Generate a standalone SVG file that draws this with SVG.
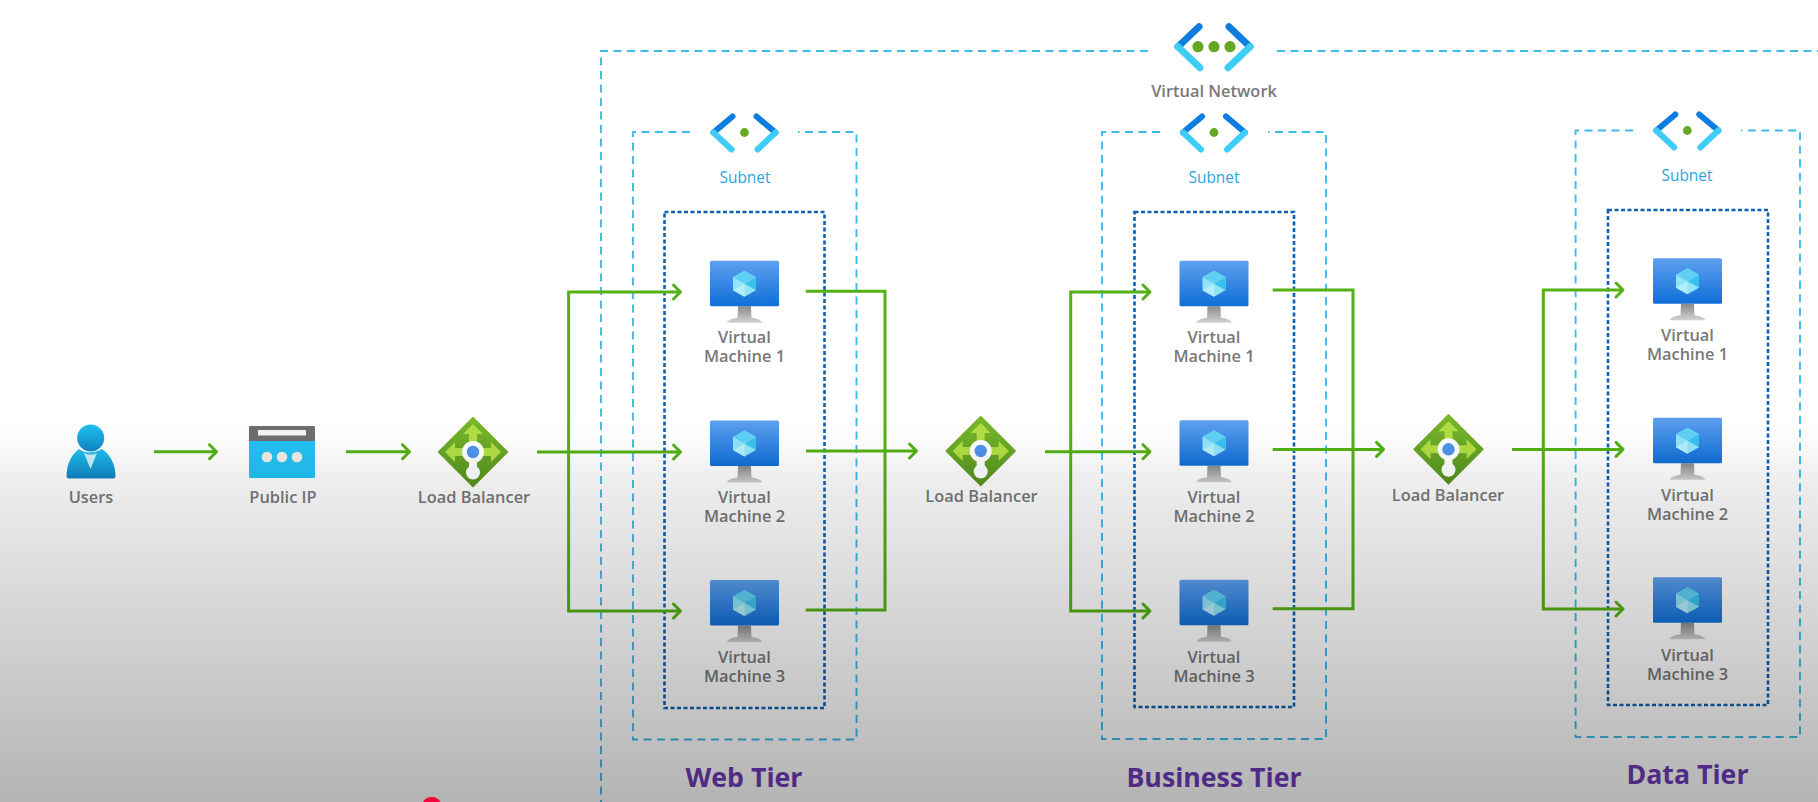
<svg xmlns="http://www.w3.org/2000/svg" xmlns:xlink="http://www.w3.org/1999/xlink" width="1818" height="802" viewBox="0 0 1818 802">
<style>
text{font-family:"Open Sans","Noto Sans","Liberation Sans",sans-serif;text-anchor:middle}
.lbl{font-size:16.4px;font-weight:600;fill:#797979}
.sub{font-size:15.4px;font-weight:400;fill:#2aa6e0}
.tier{font-size:26.7px;font-weight:700;fill:#4f2b85}
.dash{fill:none;stroke:#3cbcea;stroke-width:1.9;stroke-dasharray:8 5.5}
.dot{fill:none;stroke:#0b62b5;stroke-width:2.6;stroke-dasharray:4 2.5}
.wire{fill:none;stroke:#54b014;stroke-width:3}
.arr{marker-end:url(#head)}
</style>
<defs>
<marker id="head" markerUnits="userSpaceOnUse" markerWidth="24" markerHeight="24" viewBox="-12 -12 24 24" refX="0" refY="0" orient="auto"><path d="M-7,-7 L0,0 L-7,7" fill="none" stroke="#54b014" stroke-width="3" stroke-linecap="round" stroke-linejoin="round"/></marker>
<linearGradient id="vmScreen" x1="0" y1="0" x2="0" y2="1"><stop offset="0" stop-color="#5ea0ef"/><stop offset="1" stop-color="#0f6fd8"/></linearGradient>
<linearGradient id="vmStand" x1="0" y1="0" x2="0" y2="1"><stop offset="0" stop-color="#8a8a8a"/><stop offset="1" stop-color="#d2d2d2"/></linearGradient>
<linearGradient id="userG" x1="0" y1="0" x2="0" y2="1"><stop offset="0" stop-color="#1fc0f2"/><stop offset="1" stop-color="#0f86c4"/></linearGradient>
<linearGradient id="lbG" x1="0" y1="0" x2="0" y2="1"><stop offset="0" stop-color="#7ab82c"/><stop offset="1" stop-color="#55931f"/></linearGradient>
<linearGradient id="shade" gradientUnits="userSpaceOnUse" x1="0" y1="0" x2="0" y2="802"><stop offset="0.52" stop-color="#000" stop-opacity="0"/><stop offset="0.55" stop-color="#000" stop-opacity="0.015"/><stop offset="0.6" stop-color="#000" stop-opacity="0.07"/><stop offset="1" stop-color="#000" stop-opacity="0.295"/></linearGradient>
<g id="vm">
<path d="M-6.5,45.5 H6.5 L7,57 Q16,58 18,62 H-18 Q-16,58 -7,57 Z" fill="url(#vmStand)"/>
<rect x="-34.5" y="0" width="69" height="45.5" rx="1.5" fill="url(#vmScreen)"/>
<path d="M0,10 L11.5,16.5 V29.5 L0,36 L-11.5,29.5 V16.5 Z" fill="#8fe4f7"/>
<path d="M0,10 L11.5,16.5 L0,23 L-11.5,16.5 Z" fill="#5fd0f4"/>
<path d="M0,23 L11.5,16.5 V29.5 Z" fill="#3bc0ee"/>
<path d="M0,23 L0,36 L-11.5,29.5 Z" fill="#b5eefb"/>
</g>
<g id="subIcon" fill="none" stroke-width="6" stroke-linecap="round">
<path d="M-12,-16 L-31,0" stroke="#0d7ee0"/>
<path d="M-31,0 L-13,17" stroke="#3fcdf8"/>
<path d="M12,-16 L31,0" stroke="#0d7ee0"/>
<path d="M31,0 L13,17" stroke="#3fcdf8"/>
<circle r="4.4" fill="#66a823" stroke="none"/>
</g>
<g id="vnetIcon" fill="none" stroke-width="7" stroke-linecap="round">
<path d="M-15,-20 L-36,0" stroke="#0d7ee0"/>
<path d="M-36,0 L-14,21" stroke="#3fcdf8"/>
<path d="M15,-20 L36,0" stroke="#0d7ee0"/>
<path d="M36,0 L14,21" stroke="#3fcdf8"/>
<g fill="#66a823" stroke="none"><circle cx="-16" r="5.6"/><circle r="5.6"/><circle cx="16" r="5.6"/></g>
</g>
<g id="lb">
<path d="M0,-34.5 L34.5,0 L0,34.5 L-34.5,0 Z" fill="url(#lbG)" stroke="url(#lbG)" stroke-width="1.5" stroke-linejoin="round"/>
<g fill="#b0de42"><path d="M0,-28 L10,-18 H4 V-8 H-4 V-18 H-10 Z"/><path d="M-28,0 L-18,-10 V-4 H-8 V4 H-18 V10 Z"/><path d="M28,0 L18,-10 V-4 H8 V4 H18 V10 Z"/></g>
<circle r="11" fill="#fff"/><path d="M-4,8 H4 V16 H-4 Z" fill="#fff"/><circle cy="20.5" r="7" fill="#fff"/>
<circle r="6.2" fill="#4f94ec"/>
</g>
</defs>
<rect width="1818" height="802" fill="#fff"/>
<g id="boundaries">
<path class="dash" d="M1148,51 H601 V802"/>
<path class="dash" d="M1277,51 H1818"/>
<path class="dash" d="M690,132 H633 V739.5 H856.5 V132 H798"/>
<path class="dash" d="M1160,132 H1102 V739 H1326 V132 H1268"/>
<path class="dash" d="M1633,130.5 H1575.6 V737 H1800 V130.5 H1741"/>
<rect class="dot" x="664.5" y="212" width="160" height="496"/>
<rect class="dot" x="1134.5" y="212" width="159.5" height="495"/>
<rect class="dot" x="1608" y="210" width="160" height="495"/>
</g>
<g id="connectors">
<path class="wire arr" d="M154,451.7 H216.5"/>
<path class="wire arr" d="M346,451.7 H409.5"/>
<path class="wire arr" d="M537,452 H680.5"/>
<path class="wire arr" d="M568.6,452 V292 H680.5"/>
<path class="wire arr" d="M568.6,452 V611 H680.5"/>
<path class="wire" d="M805.7,291.3 H885 V610 H805.7"/>
<path class="wire arr" d="M806,451 H916.5"/>
<path class="wire arr" d="M1045,451.7 H1150"/>
<path class="wire arr" d="M1070.7,451.7 V292 H1150"/>
<path class="wire arr" d="M1070.7,451.7 V611 H1150"/>
<path class="wire" d="M1272.7,290 H1353 V608.7 H1272.7"/>
<path class="wire arr" d="M1272.7,449.4 H1383.5"/>
<path class="wire arr" d="M1512,449.4 H1623"/>
<path class="wire arr" d="M1543.3,449.4 V290 H1623"/>
<path class="wire arr" d="M1543.3,449.4 V609 H1623"/>
</g>
<g id="users">
<circle cx="90.7" cy="438" r="13.5" fill="url(#userG)"/>
<path d="M79,449 Q88,456 102,449 Q115,458 115.5,476 Q115.5,478.5 113,478.5 H69 Q66.5,478.5 66.5,476 Q67,458 79,449 Z" fill="url(#userG)"/>
<path d="M84,453 Q91,456 97,453 L90.5,469 Z" fill="#c8eef8"/>
<text class="lbl" x="91" y="503">Users</text>
</g>
<g id="public-ip">
<rect x="249" y="426" width="66" height="52" rx="1.5" fill="#22c2f4"/>
<path d="M249,441 V427.5 Q249,426 250.5,426 H313.5 Q315,426 315,427.5 V441 Z" fill="#6e6e6e"/>
<rect x="258" y="430" width="48" height="5.5" fill="#f4f4f4"/>
<g fill="#f0ede6"><circle cx="267" cy="457" r="5.3"/><circle cx="282" cy="457" r="5.3"/><circle cx="297" cy="457" r="5.3"/></g>
<text class="lbl" x="283" y="503">Public IP</text>
</g>
<g id="lb-web"><use xlink:href="#lb" href="#lb" transform="translate(473,452)"/><text class="lbl" x="474" y="503">Load Balancer</text></g>
<g id="lb-business"><use xlink:href="#lb" href="#lb" transform="translate(980.7,451)"/><text class="lbl" x="981.5" y="501.7">Load Balancer</text></g>
<g id="lb-data"><use xlink:href="#lb" href="#lb" transform="translate(1448.5,449.3)"/><text class="lbl" x="1448" y="500.7">Load Balancer</text></g>
<g id="vnet"><use xlink:href="#vnetIcon" href="#vnetIcon" transform="translate(1214,46.7)"/><text class="lbl" x="1214" y="96.7">Virtual Network</text></g>
<g id="subnet-web"><use xlink:href="#subIcon" href="#subIcon" transform="translate(744.5,132.5)"/><text class="sub" x="745" y="183">Subnet</text></g>
<g id="subnet-business"><use xlink:href="#subIcon" href="#subIcon" transform="translate(1214,132.5)"/><text class="sub" x="1214" y="183">Subnet</text></g>
<g id="subnet-data"><use xlink:href="#subIcon" href="#subIcon" transform="translate(1687.3,130.5)"/><text class="sub" x="1687" y="180.5">Subnet</text></g>
<g id="web-vm1"><use xlink:href="#vm" href="#vm" transform="translate(744.5,260.7)"/><text class="lbl"><tspan x="744.5" y="342.7">Virtual</tspan><tspan x="744.5" y="361.7">Machine 1</tspan></text></g>
<g id="web-vm2"><use xlink:href="#vm" href="#vm" transform="translate(744.5,420.5)"/><text class="lbl"><tspan x="744.5" y="503">Virtual</tspan><tspan x="744.5" y="522">Machine 2</tspan></text></g>
<g id="web-vm3"><use xlink:href="#vm" href="#vm" transform="translate(744.5,580)"/><text class="lbl"><tspan x="744.5" y="663">Virtual</tspan><tspan x="744.5" y="682">Machine 3</tspan></text></g>
<g id="biz-vm1"><use xlink:href="#vm" href="#vm" transform="translate(1214,260.7)"/><text class="lbl"><tspan x="1214" y="343">Virtual</tspan><tspan x="1214" y="362">Machine 1</tspan></text></g>
<g id="biz-vm2"><use xlink:href="#vm" href="#vm" transform="translate(1214,420.2)"/><text class="lbl"><tspan x="1214" y="503.3">Virtual</tspan><tspan x="1214" y="522.3">Machine 2</tspan></text></g>
<g id="biz-vm3"><use xlink:href="#vm" href="#vm" transform="translate(1214,579.7)"/><text class="lbl"><tspan x="1214" y="663">Virtual</tspan><tspan x="1214" y="682">Machine 3</tspan></text></g>
<g id="data-vm1"><use xlink:href="#vm" href="#vm" transform="translate(1687.5,258.3)"/><text class="lbl"><tspan x="1687.5" y="340.7">Virtual</tspan><tspan x="1687.5" y="359.7">Machine 1</tspan></text></g>
<g id="data-vm2"><use xlink:href="#vm" href="#vm" transform="translate(1687.5,417.8)"/><text class="lbl"><tspan x="1687.5" y="501">Virtual</tspan><tspan x="1687.5" y="520">Machine 2</tspan></text></g>
<g id="data-vm3"><use xlink:href="#vm" href="#vm" transform="translate(1687.5,577.3)"/><text class="lbl"><tspan x="1687.5" y="660.5">Virtual</tspan><tspan x="1687.5" y="679.5">Machine 3</tspan></text></g>
<rect id="shading" width="1818" height="802" fill="url(#shade)"/>
<g id="tiers">
<text class="tier" x="744" y="787">Web Tier</text>
<text class="tier" x="1214" y="787">Business Tier</text>
<text class="tier" x="1687.5" y="784">Data Tier</text>
</g>
<circle id="pointer" cx="431.7" cy="806.5" r="9.8" fill="#f2063c"/>
</svg>
